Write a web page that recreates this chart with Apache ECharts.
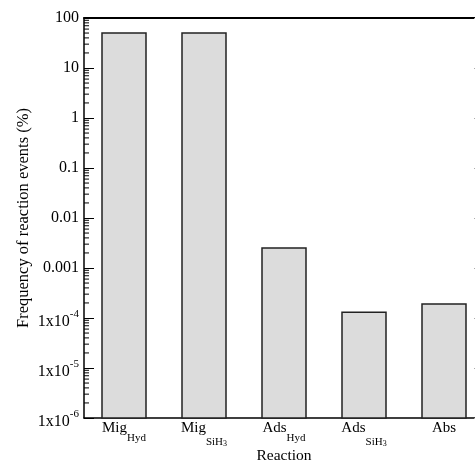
<!DOCTYPE html>
<html>
<head>
<meta charset="utf-8">
<script src="https://cdn.jsdelivr.net/npm/echarts@6/dist/echarts.min.js"></script>
<style>
  html, body { margin: 0; padding: 0; background: #fff; }
  #chart { width: 475px; height: 464px; }
</style>
</head>
<body>
<div id="chart"></div>
<script>
// reaction categories (rich text for subscripts)
var categories = [
  '{b|Mig}{s|Hyd}',
  '{b|Mig}{s2|SiH}{ss|3}',
  '{b|Ads}{s|Hyd}',
  '{b|Ads}{s2|SiH}{ss|3}',
  '{b|Abs}'
];
// frequency of reaction events (%)
var frequency = [50, 50, 0.0025, 0.00013, 0.00019];
// y tick labels, keyed by decade exponent
var yTickLabels = {
  '2': '100', '1': '10', '0': '1', '-1': '0.1', '-2': '0.01', '-3': '0.001',
  '-4': '{n|1x10}{p|-4}', '-5': '{n|1x10}{p|-5}', '-6': '{n|1x10}{p|-6}'
};
var yMin = 1e-6, yMax = 100;

var serif = 'Liberation Serif';

// log-style minor ticks (2..9 in each decade)
var minorTicks = [];
for (var e = -6; e < 2; e++) {
  for (var k = 2; k <= 9; k++) minorTicks.push(k * Math.pow(10, e));
}

var myChart = echarts.init(document.getElementById('chart'));
var options = {
  animation: false,
  grid: { left: 84, top: 18, width: 400, height: 400, outerBoundsMode: 'none', containLabel: false },
  xAxis: [{
    type: 'category',
    data: categories,
    name: 'Reaction',
    nameLocation: 'middle',
    nameGap: 30,
    nameMoveOverlap: false,
    nameTextStyle: { fontFamily: serif, fontSize: 15.5, color: '#000', verticalAlign: 'top' },
    axisTick: { show: false },
    axisLine: { lineStyle: { color: '#000', width: 1.5 } },
    axisLabel: {
      interval: 0,
      margin: -11,
      color: '#000',
      rich: {
        b: { fontFamily: serif, fontSize: 15, lineHeight: 42, color: '#000' },
        s: { fontFamily: serif, fontSize: 11, lineHeight: 12, color: '#000', padding: [21, 0, 0, 0] },
        s2: { fontFamily: serif, fontSize: 11, lineHeight: 12, color: '#000', padding: [28, 0, 0, 0] },
        ss: { fontFamily: serif, fontSize: 8, lineHeight: 9, color: '#000', padding: [32, 0, 0, 0] }
      }
    }
  }, {
    type: 'category',
    position: 'top',
    data: categories,
    axisTick: { show: false },
    axisLabel: { show: false },
    axisLine: { show: true, lineStyle: { color: '#000', width: 2 } }
  }],
  yAxis: [{
    type: 'log',
    logBase: 10,
    min: yMin,
    max: yMax,
    name: 'Frequency of reaction events (%)',
    nameLocation: 'middle',
    nameGap: 52,
    nameMoveOverlap: false,
    nameTextStyle: { fontFamily: serif, fontSize: 16.5, color: '#000' },
    axisLine: { show: true, lineStyle: { color: '#000', width: 1.5 } },
    axisTick: { show: true, inside: true, length: 10, lineStyle: { color: '#000', width: 1 } },
    splitLine: { show: false },
    axisLabel: {
      color: '#000',
      fontFamily: serif,
      fontSize: 16,
      margin: 5,
      formatter: function (v) {
        return yTickLabels[String(Math.round(Math.log10(v)))];
      },
      rich: {
        n: { fontFamily: serif, fontSize: 16, lineHeight: 16, color: '#000', padding: [8, 0, 0, 0] },
        p: { fontFamily: serif, fontSize: 11, lineHeight: 11, color: '#000', padding: [0, 0, 8, 0] }
      }
    }
  }, {
    type: 'log',
    logBase: 10,
    min: yMin,
    max: yMax,
    position: 'right',
    axisLine: { show: true, lineStyle: { color: '#000', width: 1.5 } },
    axisTick: { show: true, inside: true, length: 10, lineStyle: { color: '#aaa', width: 1 } },
    axisLabel: { show: false },
    splitLine: { show: false }
  }],
  series: [{
    // bars drawn from the bottom of the log axis
    type: 'custom',
    data: frequency.map(function (v, i) { return [i, v]; }),
    encode: { x: 0, y: 1 },
    renderItem: function (params, api) {
      var top = api.coord([api.value(0), api.value(1)]);
      var base = api.coord([api.value(0), yMin]);
      var w = 44;
      return {
        type: 'rect',
        shape: { x: top[0] - w / 2, y: top[1], width: w, height: base[1] - top[1] },
        style: { fill: '#dcdcdc', stroke: '#222', lineWidth: 1.5 }
      };
    }
  }, {
    type: 'custom',
    silent: true,
    data: minorTicks,
    renderItem: function (params, api) {
      var p = api.coord([0, api.value(0)]);
      var x0 = params.coordSys.x;
      return {
        type: 'line',
        shape: { x1: x0, y1: p[1], x2: x0 + 5, y2: p[1] },
        style: { stroke: '#000', lineWidth: 1 }
      };
    },
    encode: { y: 0 }
  }]
};
myChart.setOption(options);
</script>
</body>
</html>
